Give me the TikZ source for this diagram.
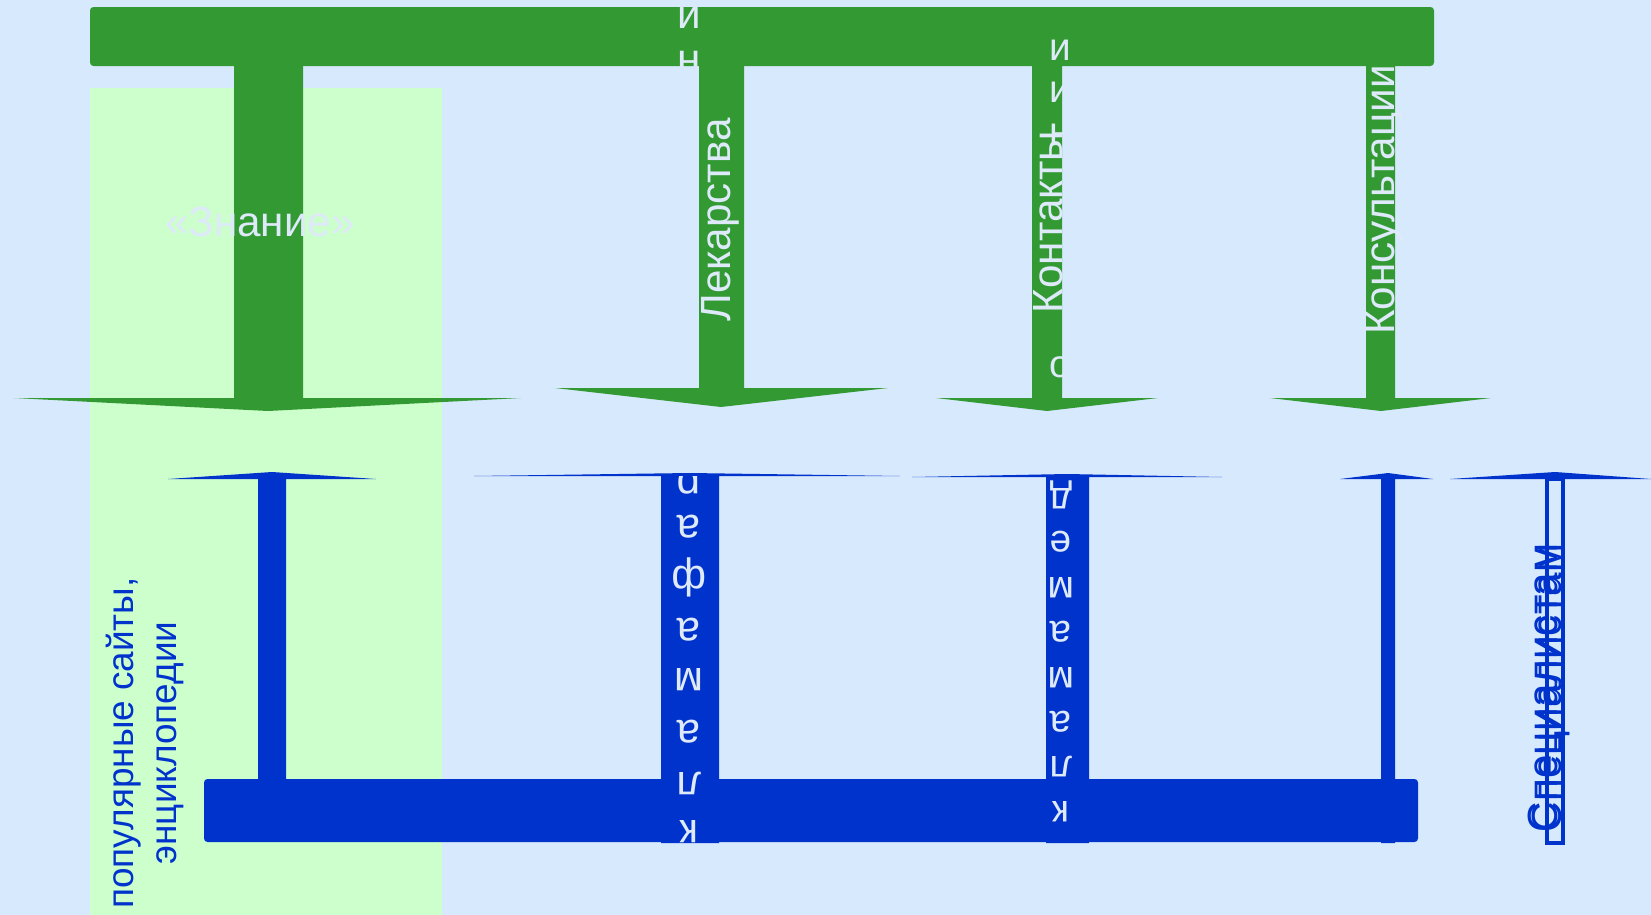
\documentclass[tikz,border=0pt]{standalone}
\usepackage{fontspec}
\setmainfont{Liberation Sans}
\usepackage{tikz}

\definecolor{skyback}{RGB}{214,233,253}
\definecolor{leafgreen}{RGB}{51,153,51}
\definecolor{paleleaf}{RGB}{204,255,204}
\definecolor{deepblue}{RGB}{0,51,204}
\definecolor{paletext}{RGB}{222,234,250}

\begin{document}
\begin{tikzpicture}[x=0.01cm, y=-0.01cm,
	word/.style={font=\fontsize{12}{14}\selectfont, inner sep=0pt},
	letterA/.style={paletext, font=\fontsize{12}{14}\selectfont, inner sep=0pt},
	letterB/.style={paletext, font=\fontsize{11}{13}\selectfont, inner sep=0pt}]
	\fill[skyback] (0,0) rectangle (1651,915);
	\useasboundingbox (0,0) rectangle (1651,915);
	\fill[paleleaf] (90,88) rectangle (442,915);

	% green bar with four arrows down
	\fill[leafgreen, rounded corners=1pt] (90,7) rectangle (1434,66);
	\fill[leafgreen] (234,66) -- (234,398) -- (14,398) -- (268,411) -- (521,398) -- (303,398) -- (303,66) -- cycle;
	\fill[leafgreen] (699,66) -- (699,388) -- (555,388) -- (721,407) -- (888,388) -- (744,388) -- (744,66) -- cycle;
	\fill[leafgreen] (1032,66) -- (1032,398) -- (936,398) -- (1047,411) -- (1158,398) -- (1062,398) -- (1062,66) -- cycle;
	\fill[leafgreen] (1366,66) -- (1366,398) -- (1270,398) -- (1381,411) -- (1491,398) -- (1395,398) -- (1395,66) -- cycle;

	% blue bar with arrows up
	\fill[deepblue, rounded corners=1pt] (204,779) rectangle (1418,842);
	\fill[deepblue] (258,779) -- (258,479) -- (168,479) -- (272,472) -- (376,479) -- (286,479) -- (286,779) -- cycle;
	\fill[deepblue] (661,843) -- (661,476) -- (474,476) -- (690,473) -- (900,476) -- (719,476) -- (719,843) -- cycle;
	\fill[deepblue] (1046,843) -- (1046,477) -- (912,477) -- (1067,474) -- (1222,477) -- (1089,477) -- (1089,843) -- cycle;
	\fill[deepblue] (1381,843) -- (1381,479) -- (1340,479) -- (1388,473) -- (1433,479) -- (1395,479) -- (1395,843) -- cycle;
	\fill[deepblue] (1450,479) -- (1555,472) -- (1651,479) -- cycle;
	\draw[deepblue, line width=1pt] (1547,479) rectangle (1563,843);

	% labels
	\node[word, paletext] (znanie) at (260,222) {«Знание»};
	\node[word, paletext, rotate=90] (lekarstva) at (720,220) {Лекарства};
	\node[word, paletext, rotate=90] (kontakty) at (1048,222) {Контакты};
	\node[word, paletext, rotate=90] (konsult) at (1384,200) {Консультации};
	\node[word, deepblue, rotate=90] (spec) at (1547,688) {Специалистам};
	\node[word, deepblue, rotate=90] (spec2) at (1551,688) {Специалистам};
	\node[deepblue, rotate=90, align=center, inner sep=0pt, font=\fontsize{10.5}{12}\selectfont] (sites) at (145,743) {популярные сайты,\\энциклопедии};

	% stacked letters, only seen over the bars
	\begin{scope}
		\clip (90,7) rectangle (1434,66) (1032,66) rectangle (1062,398);
		\foreach \ch/\yy in {и/17, н/62}
			\node[letterA] (ga-\yy) at (689,\yy) {\ch};
		\foreach \ch/\yy in {и/50, и/92, н/134, о/367}
			\node[letterB] (gb-\yy) at (1060,\yy) {\ch};
	\end{scope}
	\begin{scope}
		\clip (661,476) rectangle (719,843) (1046,477) rectangle (1089,843);
		\foreach \ch/\yy in {р/478, а/527, ф/577, а/630, м/680, а/732, л/783, к/832}
			\node[letterA, rotate=180] (ba-\yy) at (689,\yy) {\ch};
		\foreach \ch/\yy in {д/495, е/542, м/588, а/632, м/678, а/722, л/767, к/812}
			\node[letterB, rotate=180] (bb-\yy) at (1061,\yy) {\ch};
	\end{scope}
\end{tikzpicture}
\end{document}
